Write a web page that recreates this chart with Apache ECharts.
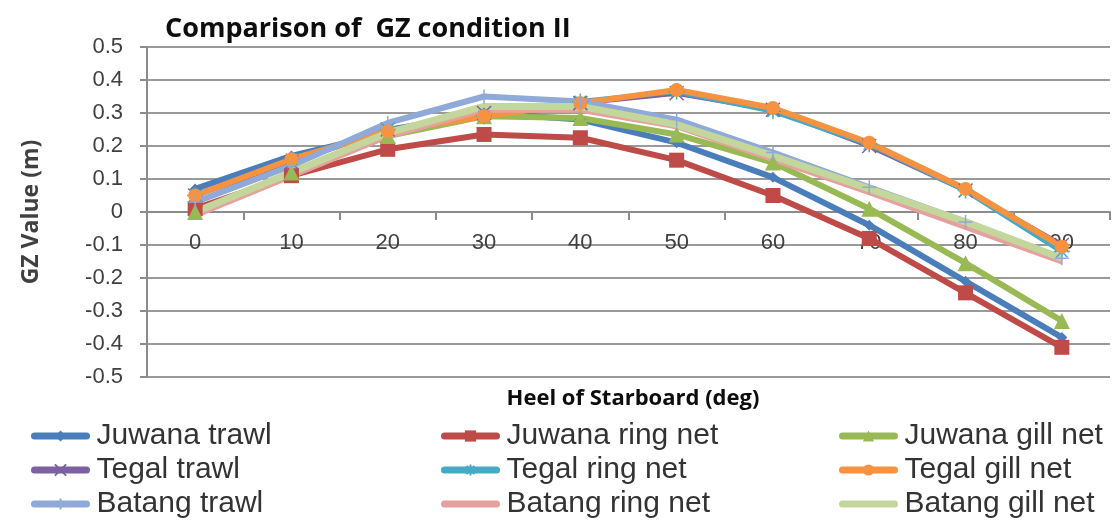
<!DOCTYPE html>
<html lang="en">
<head>
<meta charset="utf-8">
<title>Comparison of GZ condition II</title>
<script src="https://cdn.jsdelivr.net/npm/echarts@6/dist/echarts.min.js"></script>
<style>
  html, body { margin: 0; padding: 0; background: #fff; }
  #chart { width: 1115px; height: 526px; }
</style>
</head>
<body>
<div id="chart"></div>
<script type="text/javascript">
// heel angles (deg)
let heelList = ['0', '10', '20', '30', '40', '50', '60', '70', '80', '90'];
let yTicks = [-0.5, 0.5, 0.1];

// GZ values (m)
let juwanaTrawl   = [0.07, 0.17, 0.24, 0.30, 0.28, 0.21, 0.105, -0.04, -0.21, -0.38];
let juwanaRing    = [0.01, 0.11, 0.19, 0.235, 0.225, 0.157, 0.05, -0.08, -0.245, -0.41];
let juwanaGill    = [0.0, 0.12, 0.23, 0.29, 0.285, 0.235, 0.15, 0.01, -0.155, -0.33];
let tegalTrawl    = [0.05, 0.15, 0.25, 0.30, 0.33, 0.36, 0.31, 0.20, 0.065, -0.10];
let tegalRing     = [0.05, 0.16, 0.25, 0.29, 0.335, 0.365, 0.305, 0.205, 0.065, -0.12];
let tegalGill     = [0.05, 0.16, 0.245, 0.29, 0.33, 0.37, 0.315, 0.21, 0.07, -0.105];
let batangTrawl   = [0.03, 0.14, 0.27, 0.35, 0.335, 0.28, 0.18, 0.075, -0.03, -0.14];
let batangRing    = [-0.01, 0.11, 0.23, 0.31, 0.31, 0.26, 0.16, 0.06, -0.045, -0.15];
let batangGill    = [0.0, 0.12, 0.24, 0.32, 0.32, 0.265, 0.17, 0.07, -0.03, -0.14];

let seriesNames = ['Juwana trawl', 'Juwana ring net', 'Juwana gill net',
                   'Tegal trawl', 'Tegal ring net', 'Tegal gill net',
                   'Batang trawl', 'Batang ring net', 'Batang gill net'];
let seriesValues = [juwanaTrawl, juwanaRing, juwanaGill, tegalTrawl, tegalRing, tegalGill,
                    batangTrawl, batangRing, batangGill];

let colors = ['#4a7ebb', '#be4b48', '#98b954', '#7d60a0', '#46aac5', '#f69240', '#8fa9d8', '#e6a09e', '#c3d69b'];
let symbols = [
  'diamond', 'rect', 'triangle',
  'path://M0,0L10,10M10,0L0,10',
  'path://M0,5L10,5M5,0L5,10M1.5,1.5L8.5,8.5M8.5,1.5L1.5,8.5',
  'circle',
  'path://M5,0L5,10M0,5L10,5',
  'none', 'none'
];
let symbolSizes = [11, 15, 16, 14, 16, 14, 14, 0, 0];
let lineWidths = [6, 6, 6, 5, 5, 6, 6, 6, 7];
let strokeOnly = [false, false, false, true, true, false, true, false, false];

let seriesList = seriesNames.map(function(name, i){
  return {
    name: name,
    type: 'line',
    data: seriesValues[i],
    symbol: symbols[i],
    symbolSize: symbolSizes[i],
    showSymbol: symbols[i] !== 'none',
    lineStyle: { color: colors[i], width: lineWidths[i] },
    itemStyle: {
      color: colors[i],
      borderColor: colors[i],
      borderWidth: strokeOnly[i] ? 1.5 : 0
    },
    emphasis: { disabled: true },
    animation: false
  };
});

let legendFont = { fontFamily: 'Liberation Sans', fontSize: 30, color: '#333333', padding: [0, 0, 0, 5] };
function makeLegend(names, left){
  return {
    orient: 'vertical',
    left: left,
    top: 416,
    itemWidth: 52,
    itemHeight: 14,
    itemGap: 4,
    data: names.map(function(n){
      let i = seriesNames.indexOf(n);
      return symbols[i] === 'none' ? { name: n, itemStyle: { opacity: 0 } } : { name: n };
    }),
    lineStyle: { width: 7, cap: 'round' },
    textStyle: legendFont,
    selectedMode: false
  };
}

let Chart = echarts.init(document.getElementById('chart'), null, { renderer: 'canvas' });

let option = {
  color: colors,
  animation: false,
  title: [{
    text: 'Comparison of  GZ condition II',
    left: 160,
    top: 11,
    textStyle: { fontFamily: 'Open Sans', fontWeight: 'bold', fontSize: 27, color: '#0d0d0d' }
  }, {
    text: 'Heel of Starboard (deg)',
    left: 628,
    textAlign: 'center',
    top: 383,
    textStyle: { fontFamily: 'Open Sans', fontWeight: 'bold', fontSize: 22, color: '#0d0d0d' }
  }],
  legend: [
    makeLegend(['Juwana trawl', 'Tegal trawl', 'Batang trawl'], 26),
    makeLegend(['Juwana ring net', 'Tegal ring net', 'Batang ring net'], 436),
    makeLegend(['Juwana gill net', 'Tegal gill net', 'Batang gill net'], 834)
  ],
  grid: { left: 147, right: 5, top: 47, bottom: 149, containLabel: false },
  xAxis: {
    type: 'category',
    data: heelList,
    boundaryGap: true,
    position: 'bottom',
    offset: -165,
    axisLine: { onZero: false, lineStyle: { color: '#8c8c8c', width: 2 } },
    axisTick: { show: true, interval: 0, length: 8, lineStyle: { color: '#8c8c8c', width: 2 } },
    axisLabel: { margin: 20, fontFamily: 'Liberation Sans', fontSize: 22, color: '#404040' },
    splitLine: { show: false }
  },
  yAxis: {
    type: 'value',
    min: yTicks[0],
    max: yTicks[1],
    interval: yTicks[2],
    name: 'GZ Value (m)',
    nameLocation: 'middle',
    nameRotate: 90,
    nameGap: 104,
    nameTextStyle: { fontFamily: 'Open Sans', fontWeight: 'bold', fontSize: 23, color: '#404040' },
    axisLine: { show: true, lineStyle: { color: '#8c8c8c', width: 2 } },
    axisTick: { show: true, length: 7, lineStyle: { color: '#8c8c8c', width: 2 } },
    axisLabel: {
      margin: 24,
      fontFamily: 'Liberation Sans',
      fontSize: 22,
      color: '#404040',
      formatter: function(v){ return String(Math.round(v * 10) / 10); }
    },
    splitLine: { show: true, lineStyle: { color: '#9a9a9a', width: 2 } }
  },
  series: seriesList
};

Chart.setOption(option);
</script>
</body>
</html>
